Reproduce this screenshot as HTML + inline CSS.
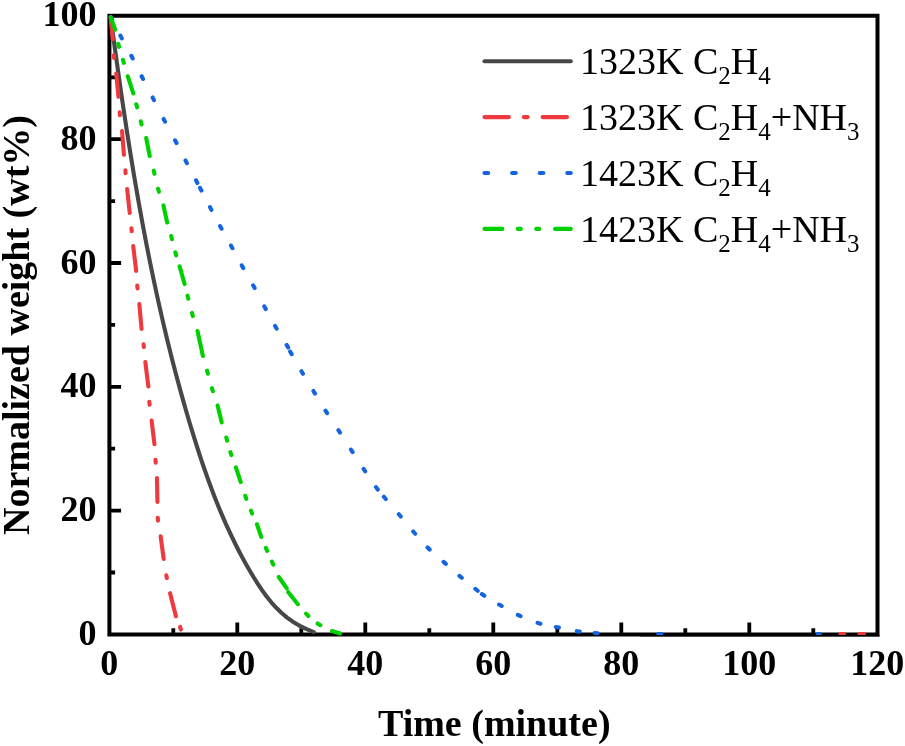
<!DOCTYPE html>
<html><head><meta charset="utf-8"><title>Normalized weight vs time</title>
<style>
html,body{margin:0;padding:0;background:#fff;}
svg{display:block;}
text{font-family:"Liberation Serif","Times New Roman",serif;fill:#000;}
.tk{font-weight:bold;font-size:36px;}
.ti{font-weight:bold;font-size:38px;}
.lg{font-size:38px;}
.c{fill:none;stroke-width:4.1;stroke-linecap:round;stroke-linejoin:round;}
</style></head><body>
<svg width="905" height="746" viewBox="0 0 905 746">
<rect width="905" height="746" fill="#fff"/>
<path d="M109.4,634.4V15.7H877.5V634.4H109.4Z" fill="none" stroke="#000" stroke-width="4"/>
<path d="M173.3,634.4V628.2M237.3,634.4V622.5M301.3,634.4V628.2M365.3,634.4V622.5M429.3,634.4V628.2M493.3,634.4V622.5M557.3,634.4V628.2M621.3,634.4V622.5M685.3,634.4V628.2M749.3,634.4V622.5M813.3,634.4V628.2M109.4,572.5H115.1M109.4,510.6H121.1M109.4,448.7H115.1M109.4,386.8H121.1M109.4,324.9H115.1M109.4,263H121.1M109.4,201.1H115.1M109.4,139.2H121.1M109.4,77.3H115.1" stroke="#000" stroke-width="3.8" fill="none"/>
<path class="c" stroke="#474747" d="M110.7,17.4L111.7,24.89L112.71,32.39L113.73,39.88L114.75,47.37L115.78,54.85L116.83,62.34L117.88,69.82L118.93,77.3L120,84.78L121.09,92.26L122.18,99.73L123.28,107.2L124.4,114.67L125.53,122.14L126.67,129.6L127.83,137.06L129.01,144.52L130.19,151.97L131.4,159.42L132.62,166.86L133.86,174.31L135.11,181.75L136.39,189.18L137.68,196.61L138.99,204.04L140.33,211.46L141.68,218.88L143.05,226.3L144.45,233.71L145.86,241.11L147.3,248.51L148.77,255.91L150.25,263.3L151.77,270.69L153.3,278.07L154.86,285.44L156.45,292.81L158.07,300.18L159.71,307.54L161.38,314.89L163.08,322.24L164.8,329.59L166.56,336.92L168.35,344.25L170.16,351.58L172.01,358.89L173.89,366.21L175.8,373.51L177.75,380.81L179.72,388.1L181.74,395.39L183.78,402.67L185.86,409.94L187.98,417.2L190.13,424.46L192.32,431.71L194.56,438.95L196.83,446.17L199.16,453.39L201.53,460.58L203.97,467.75L206.46,474.9L209.02,482.02L211.65,489.11L214.35,496.18L217.12,503.21L219.98,510.2L222.92,517.15L225.95,524.06L229.07,530.92L232.28,537.74L235.6,544.51L239.01,551.23L242.54,557.89L246.18,564.49L249.93,571.03L253.8,577.51L257.82,583.9L262.01,590.15L266.42,596.21L271.09,602.04L276.06,607.57L281.38,612.77L287.07,617.57L293.18,621.93L299.73,625.8L306.63,629.18L313.77,632.05"/>
<path class="c" stroke="#ee3a3e" d="M110.7,17.4L112.71,39.36M113.86,55.21L114.14,57.99M116.19,73.54L118.41,96.76M119.66,112.41L119.94,115.19M122.06,131.04L123.94,154.76M125.37,170.41L125.63,173.19M127.14,189.05L129.76,212.95M131.45,228.41L131.75,231.19M133.24,246.15L136.16,270.95M137.26,285.61L137.54,288.39M139.33,304.05L141.57,328.85M143.55,344.21L143.85,346.99M145.34,362.15L148.36,386.55M149.35,401.91L149.65,404.69M151.64,420.65L154.46,444.25M155.5,459.9L155.7,462.7M156.94,477.95L157.46,501.95M157.78,517.91L158.02,520.69M160.65,536.35L163.65,559.05M166.34,575.32L166.86,578.08M170.09,593.14L175.91,616.26M180.08,626.97L180.92,629.63"/>
<path class="c" stroke="#1464e0" d="M110.92,16.96L112.28,19.64M120.4,35.67L121.8,38.33M131.31,55.77L132.69,58.43M141.62,76.26L142.98,78.94M152.61,97.47L153.99,100.13M163.6,118.97L165,121.63M175.1,140.37L176.5,143.03M185.5,160.47L186.9,163.13M196,180.27L197.4,182.93M200.01,187.87L201.39,190.53M210,207.17L211.4,209.83M220.08,226.08L221.52,228.72M230.97,245.59L232.43,248.21M241.77,265.39L243.23,268.01M253.18,285.38L254.62,288.02M264.29,306.38L265.71,309.02M275.05,326L276.55,328.6M286.64,344.91L288.16,347.49M290.16,351.59L291.64,354.21M301.44,371.21L302.96,373.79M313.42,391.02L314.98,393.58M325.49,410.64L327.11,413.16M338.38,430.15L340.02,432.65M350.98,449.54L352.62,452.06M363.57,468.85L365.23,471.35M376.01,487.09L377.79,489.51M383.83,496.75L385.77,499.05M398.83,514.26L400.77,516.54M413.22,531.47L415.18,533.73M427.54,547.44L429.66,549.56M443.58,561.91L445.82,563.89M459.45,575.83L461.75,577.77M475.33,588.86L477.67,590.74M481.84,594.08L484.36,595.72M499.1,604.56L501.7,606.04M517.84,614.87L520.56,616.13M537.57,622.86L540.43,623.74M555.93,627L558.87,627.6M576.72,631.18L579.68,631.62M594.61,632.96L597.59,633.24"/>
<path class="c" stroke="#00d000" d="M110.7,17.4L115.28,29.68M118.28,43.76L119.12,46.84M122.94,59.77L123.86,62.83M127.71,76.23L133.29,93.47M136.27,104.26L137.13,107.34M140.78,121.26L141.62,124.34M146.19,138.01L149.71,155.99M153.72,170.65L154.48,173.75M158.09,188.75L158.91,191.85M163.44,205.4L167.16,222.5M171.19,236.05L172.01,239.15M175.37,252.26L176.23,255.34M179.59,266.24L184.61,284.06M187.49,295.65L188.31,298.75M191.99,312.95L192.81,316.05M197.53,331L202.87,355.9M207.09,370.65L207.91,373.75M211.95,388.16L212.85,391.24M217.58,405.39L221.72,422.51M226.26,437.56L227.14,440.64M230.4,452.08L231.4,455.12M235.83,467.4L240.77,482.1M245.27,495.79L246.33,498.81M250.91,510.61L252.09,513.59M256.96,524.24L261.24,536.96M265.89,547.92L267.11,550.88M271.9,561.66L273.3,564.54M278.78,576.97L286.82,588.33M288.28,592.2L297.92,604.2M306.07,613.66L308.33,615.94M317.63,623.47L320.37,625.13M331.97,631.07L340.13,633.43"/>
<path class="c" stroke="#1464e0" d="M658.2,634H661.4M817.6,634.1H819.8"/>
<path class="c" stroke="#ee3a3e" d="M840.5,634H844M859.5,634H863.9"/>
<rect x="640" y="635" width="239.5" height="1.4" fill="#000"/>
<text class="tk" x="109.3" y="674.9" text-anchor="middle">0</text>
<text class="tk" x="237.3" y="674.9" text-anchor="middle">20</text>
<text class="tk" x="365.3" y="674.9" text-anchor="middle">40</text>
<text class="tk" x="493.3" y="674.9" text-anchor="middle">60</text>
<text class="tk" x="621.3" y="674.9" text-anchor="middle">80</text>
<text class="tk" x="749.3" y="674.9" text-anchor="middle">100</text>
<text class="tk" x="877.3" y="674.9" text-anchor="middle">120</text>
<text class="tk" x="96.6" y="644.9" text-anchor="end">0</text>
<text class="tk" x="96.6" y="521.1" text-anchor="end">20</text>
<text class="tk" x="96.6" y="397.3" text-anchor="end">40</text>
<text class="tk" x="96.6" y="273.5" text-anchor="end">60</text>
<text class="tk" x="96.6" y="149.7" text-anchor="end">80</text>
<text class="tk" x="96.6" y="25.9" text-anchor="end">100</text>
<text class="ti" x="378" y="735.8">Time (minute)</text>
<text class="ti" transform="translate(28.8,535) rotate(-90)">Normalized weight (wt%)</text>
<path class="c" d="M484.5,61.2H570.8" stroke="#474747"/>
<text class="lg" x="580" y="74.3">1323K C<tspan font-size="25" dy="10">2</tspan><tspan dy="-10">H</tspan><tspan font-size="25" dy="10">4</tspan></text>
<path class="c" d="M484.5,117.1H570.8" stroke="#ee3a3e" stroke-dasharray="24.4 14.9 3.9 14.9"/>
<text class="lg" x="580" y="130.2">1323K C<tspan font-size="25" dy="10">2</tspan><tspan dy="-10">H</tspan><tspan font-size="25" dy="10">4</tspan><tspan dy="-10">+NH</tspan><tspan font-size="25" dy="10">3</tspan></text>
<path class="c" d="M484.5,173H570.8" stroke="#1464e0" stroke-dasharray="3.7 23.9"/>
<text class="lg" x="580" y="186.1">1423K C<tspan font-size="25" dy="10">2</tspan><tspan dy="-10">H</tspan><tspan font-size="25" dy="10">4</tspan></text>
<path class="c" d="M484.5,228.9H570.8" stroke="#00d000" stroke-dasharray="17.8 15.5 3 15.5 3 15.8"/>
<text class="lg" x="580" y="242">1423K C<tspan font-size="25" dy="10">2</tspan><tspan dy="-10">H</tspan><tspan font-size="25" dy="10">4</tspan><tspan dy="-10">+NH</tspan><tspan font-size="25" dy="10">3</tspan></text>
</svg>
</body></html>
